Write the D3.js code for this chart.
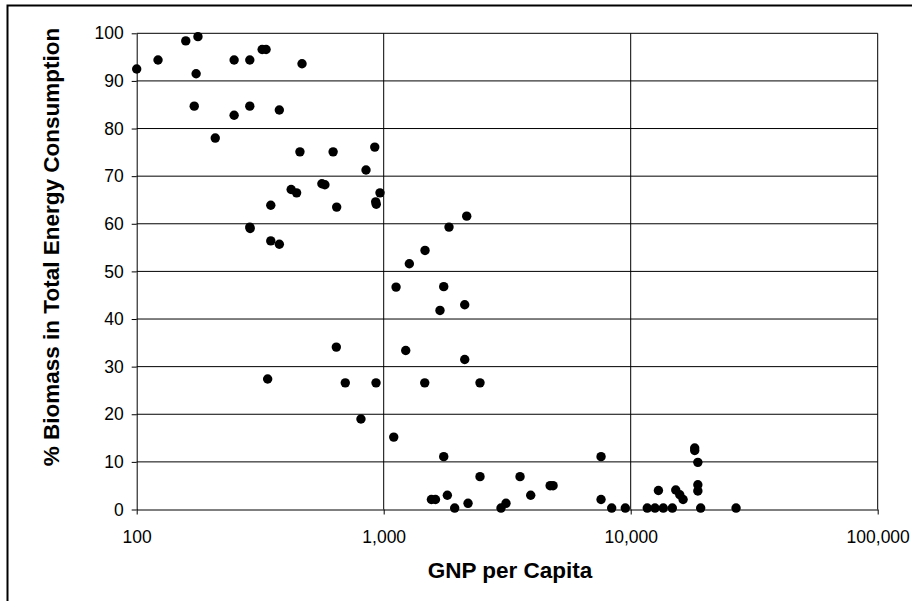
<!DOCTYPE html>
<html>
<head>
  <meta charset="utf-8"/>
  <title>Biomass vs GNP</title>
  <style>
    body { margin: 0; background: #fff; }
    text { font-family: "Liberation Sans", Arial, sans-serif; }
  </style>
</head>
<body>
  <div id="chart"></div>

  <script src="https://cdn.jsdelivr.net/npm/d3@7"></script>
  <script>

  // GNP per capita (x, log scale) and % biomass (y)
  var gnp = [100, 122, 158, 177, 174, 171, 208, 248, 248, 287, 287, 287, 288,
    322, 334, 378, 349, 349, 378, 467, 458, 422, 444, 562, 578, 624, 645, 848,
    920, 933, 928, 966, 2168, 1838, 1470, 1270, 1122, 339, 643, 699, 931, 809,
    1098, 1750, 1690, 2128, 1228, 2128, 1466, 2454, 1750, 2454, 3564, 4720,
    4850, 3937, 1560, 1620, 1810, 1938, 2195, 2985, 3127, 7585, 7585, 8375,
    9510, 11670, 12540, 13550, 14740, 12950, 15220, 15800, 16300, 18160, 18160,
    18700, 18700, 18700, 19200, 26700];
  var biomass = [92.5, 94.4, 98.4, 99.3, 91.5, 84.7, 78.0, 94.4, 82.8, 94.4,
    84.7, 59.3, 59.0, 96.6, 96.6, 83.9, 63.9, 56.4, 55.7, 93.6, 75.1, 67.2,
    66.5, 68.4, 68.2, 75.1, 63.5, 71.3, 76.1, 64.1, 64.6, 66.5, 61.6, 59.3,
    54.4, 51.6, 46.7, 27.4, 34.1, 26.6, 26.6, 19.0, 15.2, 46.8, 41.8, 43.0,
    33.4, 31.5, 26.6, 26.6, 11.1, 6.9, 6.9, 5.0, 5.0, 3.0, 2.1, 2.1, 3.0, 0.3,
    1.3, 0.3, 1.3, 11.1, 2.1, 0.3, 0.3, 0.3, 0.3, 0.3, 0.3, 4.0, 4.1, 3.1,
    2.1, 12.4, 12.9, 9.9, 5.2, 3.9, 0.3, 0.3];

  var xTicks = [100, 1000, 10000, 100000];
  var yTicks = [0, 10, 20, 30, 40, 50, 60, 70, 80, 90, 100];

  var width = 912, height = 601;
  var plotL = 136.7, plotR = 877.7, plotT = 33.3, plotB = 509.5;

  var svg = d3.select("#chart").append("svg")
    .attr("width", width)
    .attr("height", height);

  // chart area border (only left and top are visible)
  svg.append("path")
    .attr("d", "M7.5," + height + "V5.5H" + width)
    .attr("fill", "none")
    .attr("stroke", "#000")
    .attr("stroke-width", 2);

  var x = d3.scaleLog().domain([100, 100000]).range([plotL, plotR]);
  var y = d3.scaleLinear().domain([0, 100]).range([plotB, plotT]);

  //gridlines:
  svg.append("g").selectAll("line")
    .data(yTicks.slice(1))
    .enter().append("line")
    .attr("x1", plotL).attr("x2", plotR)
    .attr("y1", function(d){ return y(d); })
    .attr("y2", function(d){ return y(d); })
    .attr("stroke", "#000");

  svg.append("g").selectAll("line")
    .data(xTicks.slice(1))
    .enter().append("line")
    .attr("x1", function(d){ return x(d); })
    .attr("x2", function(d){ return x(d); })
    .attr("y1", plotT).attr("y2", plotB)
    .attr("stroke", "#000");

  //axes:
  var xAxis = d3.axisBottom(x)
    .tickValues(xTicks)
    .tickFormat(d3.format(","))
    .tickSizeInner(5).tickSizeOuter(0).tickPadding(16);
  var gx = svg.append("g")
    .attr("transform", "translate(0," + plotB + ")")
    .call(xAxis);

  var yAxis = d3.axisLeft(y)
    .tickValues(yTicks)
    .tickSizeInner(5).tickSizeOuter(0).tickPadding(8);
  var gy = svg.append("g")
    .attr("transform", "translate(" + plotL + ",0)")
    .call(yAxis);

  [gx, gy].forEach(function(g){
    g.select(".domain").attr("stroke", "#000");
    g.selectAll(".tick line").attr("stroke", "#000");
    g.selectAll(".tick text")
      .attr("fill", "#000")
      .style("font-size", "17.5px")
      .style("font-family", "'Liberation Sans', Arial, sans-serif");
  });

  //points:
  svg.append("g").selectAll("circle")
    .data(d3.range(gnp.length))
    .enter().append("circle")
    .attr("cx", function(i){ return x(gnp[i]); })
    .attr("cy", function(i){ return y(biomass[i]); })
    .attr("r", 4.7)
    .attr("fill", "#000");

  //axis titles:
  svg.append("text")
    .attr("x", 510)
    .attr("y", 578)
    .attr("text-anchor", "middle")
    .style("font-size", "22.5px")
    .style("font-weight", "bold")
    .text("GNP per Capita");

  svg.append("text")
    .attr("transform", "translate(59,247) rotate(-90)")
    .attr("text-anchor", "middle")
    .style("font-size", "22.5px")
    .style("font-weight", "bold")
    .text("% Biomass in Total Energy Consumption");

  </script>
</body>
</html>
